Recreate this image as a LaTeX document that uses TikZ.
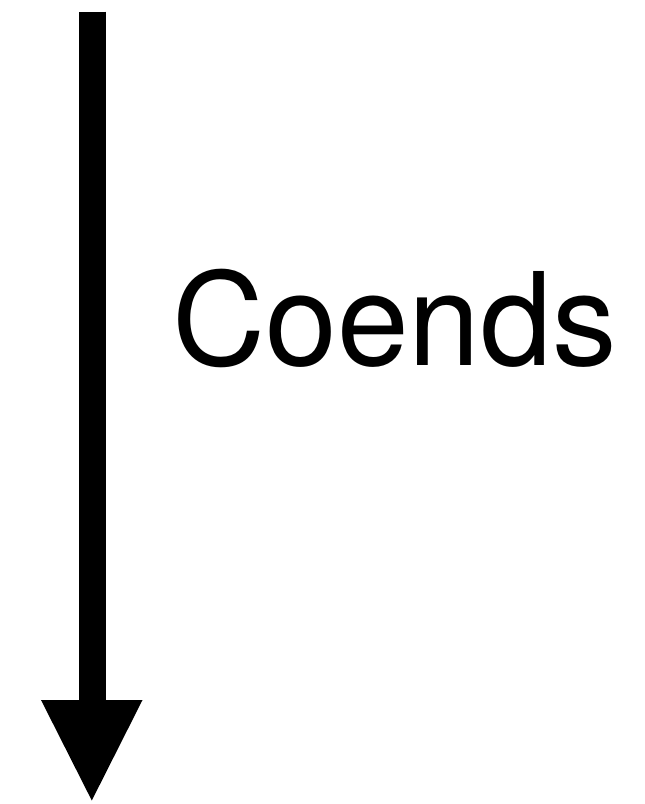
\documentclass[tikz,border=0pt]{standalone}
\usepackage{fontspec}
\setmainfont{TeX Gyre Heros}
\begin{document}
\begin{tikzpicture}[x=1pt,y=1pt,
  shaftline/.style={line width=27pt, line cap=butt, black},
  headfill/.style={fill=black},
  labeltext/.style={font=\fontsize{129}{129}\selectfont, inner sep=0pt, anchor=base west}]
\useasboundingbox (0,0) rectangle (645,-804);
\coordinate (top) at (92,-11.5);
\coordinate (base) at (92,-700.5);
\coordinate (left) at (41,-700);
\coordinate (right) at (142.5,-700);
\coordinate (tip) at (91.8,-800.5);
\draw[shaftline] (top) -- (base);
\fill[headfill] (left) -- (right) -- (tip) -- cycle;
\node[labeltext] (lbl) at (172,-365) {Coends};
\end{tikzpicture}
\end{document}
